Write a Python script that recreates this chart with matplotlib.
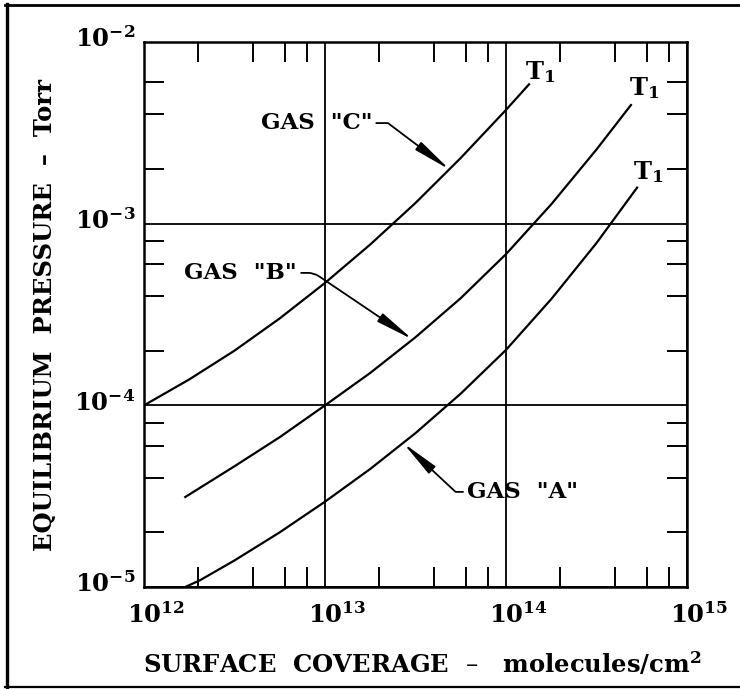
import matplotlib
matplotlib.use("Agg")
import matplotlib.pyplot as plt
import matplotlib.transforms as mtransforms
from matplotlib.ticker import FixedLocator, NullFormatter
from matplotlib.lines import Line2D

plt.rcParams['font.family'] = ['DejaVu Serif']
plt.rcParams['font.weight'] = 'bold'
plt.rcParams['axes.labelweight'] = 'bold'
plt.rcParams['mathtext.fontset'] = 'dejavuserif'

# ---- axis ticks ----
x_major = [1e12, 1e13, 1e14, 1e15]
x_major_labels = [r'$\mathbf{10^{12}}$', r'$\mathbf{10^{13}}$', r'$\mathbf{10^{14}}$', r'$\mathbf{10^{15}}$']
y_major = [1e-5, 1e-4, 1e-3, 1e-2]
y_major_labels = [r'$\mathbf{10^{-5}}$', r'$\mathbf{10^{-4}}$', r'$\mathbf{10^{-3}}$', r'$\mathbf{10^{-2}}$']
x_minor = [2e12, 4e12, 6e12, 8e12, 2e13, 4e13, 6e13, 8e13, 2e14, 4e14, 6e14, 8e14]
y_minor = [2e-5, 4e-5, 6e-5, 8e-5, 2e-4, 4e-4, 6e-4, 8e-4, 2e-3, 4e-3, 6e-3]

# ---- curves (surface coverage molecules/cm2, pressure Torr) ----
gas_c_x = [1.0e12, 1.78e12, 3.16e12, 5.62e12, 1.0e13, 1.78e13, 3.16e13, 5.62e13, 1.0e14, 1.34e14]
gas_c_y = [1.0e-4, 1.39e-4, 2.0e-4, 3.01e-4, 4.72e-4, 7.69e-4, 1.30e-3, 2.30e-3, 4.23e-3, 5.85e-3]

gas_b_x = [1.69e12, 3.16e12, 5.62e12, 1.0e13, 1.78e13, 3.16e13, 5.62e13, 1.0e14, 1.78e14, 3.16e14, 4.9e14]
gas_b_y = [3.13e-5, 4.62e-5, 6.68e-5, 1.0e-4, 1.51e-4, 2.37e-4, 3.89e-4, 6.80e-4, 1.28e-3, 2.56e-3, 4.50e-3]

gas_a_x = [1.69e12, 2.04e12, 3.16e12, 5.62e12, 1.0e13, 1.78e13, 3.16e13, 5.62e13, 1.0e14, 1.78e14, 3.16e14, 5.3e14]
gas_a_y = [1.0e-5, 1.09e-5, 1.40e-5, 2.0e-5, 2.95e-5, 4.47e-5, 7.03e-5, 1.16e-4, 2.02e-4, 3.85e-4, 7.82e-4, 1.58e-3]

gas_labels = ['GAS  "C"', 'GAS  "B"', 'GAS  "A"']
curve_end_label = r'T$_\mathbf{1}$'

fig = plt.figure(figsize=(7.4, 6.89), dpi=100)
ax = fig.add_axes([0.1946, 0.148, 0.7338, 0.791])
ax.set_xscale('log')
ax.set_yscale('log')
ax.set_xlim(1e12, 1e15)
ax.set_ylim(1e-5, 1e-2)

for xs, ys in [(gas_c_x, gas_c_y), (gas_b_x, gas_b_y), (gas_a_x, gas_a_y)]:
    ax.plot(xs, ys, color='black', lw=1.6, solid_joinstyle='round')

ax.set_xticks(x_major, x_major_labels)
ax.set_yticks(y_major, y_major_labels)
ax.xaxis.set_minor_locator(FixedLocator(x_minor))
ax.yaxis.set_minor_locator(FixedLocator(y_minor))
ax.xaxis.set_minor_formatter(NullFormatter())
ax.yaxis.set_minor_formatter(NullFormatter())
ax.grid(which='major', color='black', lw=1.3)
ax.tick_params(which='major', length=0, labelsize=17.5)
ax.tick_params(axis='x', which='major', pad=11)
ax.tick_params(axis='y', which='major', pad=6)
ax.tick_params(which='minor', direction='in', length=14.5, width=1.4,
               top=True, right=True, bottom=True, left=True)
for s in ax.spines.values():
    s.set_linewidth(1.8)

xoff = mtransforms.ScaledTranslation(12 / 100, 0, fig.dpi_scale_trans)
for lab in ax.get_xticklabels():
    lab.set_transform(lab.get_transform() + xoff)
yoff = mtransforms.ScaledTranslation(0, 5 / 100, fig.dpi_scale_trans)
for lab in ax.get_yticklabels():
    lab.set_transform(lab.get_transform() + yoff)

ax.set_xlabel('SURFACE  COVERAGE  –   molecules/cm$^\\mathbf{2}$', fontsize=17.5,
              fontweight='bold', va='center')
ax.xaxis.set_label_coords(0.512, -0.142)
ax.set_ylabel('EQUILIBRIUM  PRESSURE  –  Torr', fontsize=17.5, fontweight='bold', va='center')
ax.yaxis.set_label_coords(-0.182, 0.5)

# ---- annotations ----
def arrow(angA, angB, rad):
    return dict(arrowstyle='-|>,head_length=1.4,head_width=0.18',
                connectionstyle=f'angle,angleA={angA},angleB={angB},rad={rad}',
                color='black', lw=1.3, shrinkA=1, shrinkB=0)

ax.annotate(gas_labels[0], xy=(4.9e13, 1.98e-3), xytext=(1.82e13, 3.58e-3),
            ha='right', va='center', fontsize=16.5, fontweight='bold', arrowprops=arrow(0, -37, 0))
ax.annotate(gas_labels[1], xy=(3.06e13, 2.30e-4), xytext=(7.0e12, 5.36e-4),
            ha='right', va='center', fontsize=16.5, fontweight='bold', arrowprops=arrow(0, -34, 6))
ax.annotate(gas_labels[2], xy=(2.7e13, 6.21e-5), xytext=(6.1e13, 3.34e-5),
            ha='left', va='center', fontsize=16.5, fontweight='bold', arrowprops=arrow(180, -43, 0))

ax.text(1.27e14, 6.84e-3, curve_end_label, ha='left', va='center', fontsize=17.5, fontweight='bold')
ax.text(4.8e14, 5.58e-3, curve_end_label, ha='left', va='center', fontsize=17.5, fontweight='bold')
ax.text(5.0e14, 1.93e-3, curve_end_label, ha='left', va='center', fontsize=17.5, fontweight='bold')

# ---- outer frame ----
W, H = 740, 689
fig.add_artist(Line2D([6.5 / W, 6.5 / W], [1 - 4 / H, 1 - 687 / H], transform=fig.transFigure, color='black', lw=2.4))
fig.add_artist(Line2D([5 / W, 1.0], [1 - 5 / H, 1 - 5 / H], transform=fig.transFigure, color='black', lw=2.0))
fig.add_artist(Line2D([5 / W, 1.0], [1 - 686.5 / H, 1 - 686.5 / H], transform=fig.transFigure, color='black', lw=1.6))

fig.savefig('out.png', dpi=100)
